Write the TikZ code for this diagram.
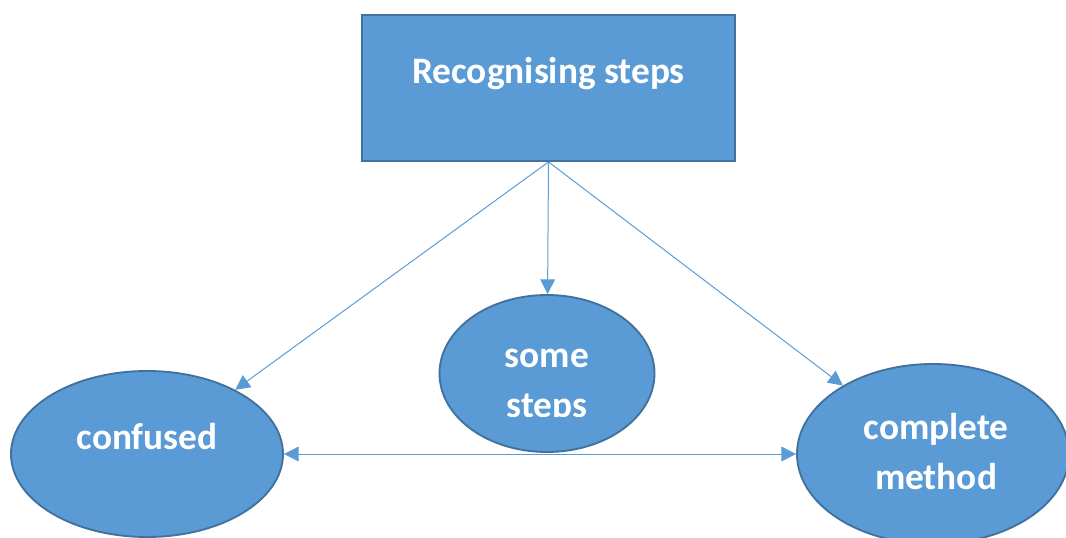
\documentclass[tikz,border=0pt]{standalone}
\usepackage{fontspec}
\setmainfont{Carlito}
\usetikzlibrary{shapes.geometric,arrows.meta}
\definecolor{shapefill}{HTML}{5B9BD5}
\definecolor{shapeedge}{HTML}{41719C}
\definecolor{linkblue}{HTML}{5B9BD5}
\tikzset{
  box/.style={draw=shapeedge,fill=shapefill,line width=1.4pt,inner sep=0pt},
  oval/.style={ellipse,draw=shapeedge,fill=shapefill,line width=1.4pt,inner sep=0pt},
  label text/.style={text=white,font=\bfseries\fontsize{28}{37.5}\selectfont,align=center,inner sep=0pt},
  tip/.tip={Triangle[length=11pt,width=11pt]},
  link/.style={draw=linkblue,line width=0.75pt,-tip},
  twoway/.style={draw=linkblue,line width=0.75pt,tip-tip}
}
\begin{document}
\begin{tikzpicture}[x=0.75pt,y=-0.75pt]
  \useasboundingbox (0,0) rectangle (1066,538);
  % top box
  \node[box,minimum width=373*0.75pt,minimum height=146*0.75pt] (top) at (548.5,88) {};
  \node[label text] (toptext) at (548.5,74) {Recognising steps};
  % three outcomes
  \node[oval,minimum width=215*0.75pt,minimum height=157*0.75pt] (some) at (547,373.5) {};
  \node[oval,minimum width=272*0.75pt,minimum height=166*0.75pt] (conf) at (147,454) {};
  \node[oval,minimum width=272*0.75pt,minimum height=180*0.75pt] (comp) at (933,454) {};
  % the lower line of this label is cut off by its text frame
  \begin{scope}
    \clip (430,280) rectangle (670,416);
    \node[label text] (sometext) at (547,386) {some\\steps};
  \end{scope}
  \node[label text] (conftext) at (147,437) {confused};
  \node[label text] (comptext) at (936,452) {complete\\method};
  % connectors
  \draw[link] (top.south) -- (conf);
  \draw[link] (top.south) -- (some);
  \draw[link] (top.south) -- (comp);
  \draw[twoway] (conf) -- (comp);
\end{tikzpicture}
\end{document}
